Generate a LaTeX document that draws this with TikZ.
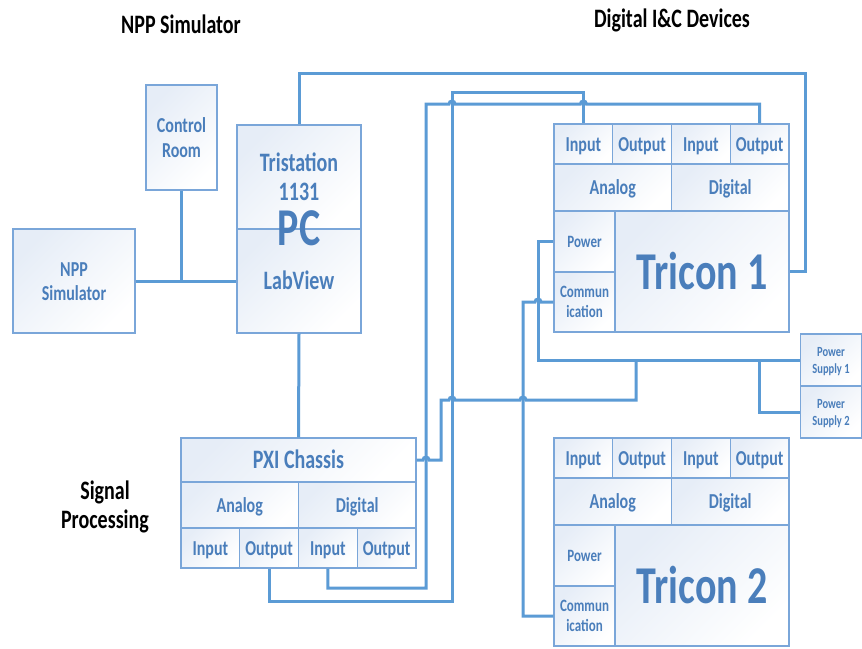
\documentclass[tikz,border=0pt]{standalone}
\usepackage{fontspec}
\setmainfont{Carlito}
\usepackage{graphicx}
\usetikzlibrary{calc}

\definecolor{wireblue}{HTML}{5B9BD5}
\definecolor{boxline}{HTML}{7AA6D9}
\definecolor{boxtext}{HTML}{4A7EBB}
\definecolor{boxtint}{HTML}{E6EDF7}

% text in the boxes is drawn a bit taller than wide
\newcommand{\tallt}[1]{\raisebox{-0.15em}[\height][\depth]{\scalebox{1}[1.33]{\begin{tabular}{@{}c@{}}#1\end{tabular}}}}

\begin{document}
\begin{tikzpicture}[x=1pt,y=-1pt,
    cell/.style={draw=boxline,line width=1.2pt,left color=boxtint,right color=white,
        shading angle=45,inner sep=0pt,text=boxtext},
    txtbig/.style={font=\fontsize{20}{22.5}\selectfont\bfseries},
    txtmid/.style={font=\fontsize{16}{18.5}\selectfont\bfseries},
    txtsmall/.style={font=\fontsize{13}{15}\selectfont\bfseries},
    txthuge/.style={font=\fontsize{40}{44}\selectfont\bfseries,text=boxtext},
    io/.style={cell,txtmid,minimum width=58.75,minimum height=40},
    grp/.style={cell,txtmid,minimum width=117.5,minimum height=47},
    title/.style={font=\fontsize{20}{22.5}\selectfont\bfseries,text=black},
    link/.style={draw=wireblue,line width=3pt}]

    \path[use as bounding box,fill=white] (0,0) rectangle (862,648);

    % Titles
    \node[title] (ttlnpp) at (181,25) {\tallt{NPP Simulator}};
    \node[title] (ttldig) at (672,19) {\tallt{Digital I\&C Devices}};
    \node[title] (ttlsig) at (105,505) {\tallt{Signal\\Processing}};

    % Simulator side
    \node[cell,txtmid,minimum width=122,minimum height=104] (npp) at (74,281) {\tallt{NPP\\Simulator}};
    \node[cell,txtmid,minimum width=71,minimum height=105] (ctrl) at (181.5,137.5) {\tallt{Control\\Room}};
    \node[cell,txtbig,minimum width=124,minimum height=104] (pctop) at (299,177) {\tallt{Tristation\\1131}};
    \node[cell,txtbig,minimum width=124,minimum height=104] (pcbot) at (299,281) {\tallt{LabView}};
    \node[txthuge] (pclbl) at (299,228) {\tallt{PC}};

    % PXI chassis
    \node[cell,txtbig,minimum width=235,minimum height=44] (pxi) at (298.5,460) {\tallt{PXI Chassis}};
    \node[grp,minimum height=46] (pxia) at (239.75,505) {\tallt{Analog}};
    \node[grp,minimum height=46] (pxid) at (357.25,505) {\tallt{Digital}};
    \node[io] (pxiai) at (210.4,548) {\tallt{Input}};
    \node[io] (pxiao) at (269.1,548) {\tallt{Output}};
    \node[io] (pxidi) at (327.9,548) {\tallt{Input}};
    \node[io] (pxido) at (386.6,548) {\tallt{Output}};

    % Tricon 1
    \node[io] (t1ai) at (583.4,144) {\tallt{Input}};
    \node[io] (t1ao) at (642.1,144) {\tallt{Output}};
    \node[io] (t1di) at (700.9,144) {\tallt{Input}};
    \node[io] (t1do) at (759.6,144) {\tallt{Output}};
    \node[grp] (t1a) at (612.75,187.5) {\tallt{Analog}};
    \node[grp] (t1d) at (730.25,187.5) {\tallt{Digital}};
    \node[cell,txtsmall,minimum width=61,minimum height=61] (t1pow) at (584.5,241.5) {\tallt{Power}};
    \node[cell,txtsmall,minimum width=61,minimum height=60] (t1com) at (584.5,302) {\tallt{Commun\\ication}};
    \node[cell,txthuge,minimum width=174,minimum height=121] (t1main) at (702,271.5) {\tallt{Tricon 1}};

    % Tricon 2
    \node[io] (t2ai) at (583.4,458) {\tallt{Input}};
    \node[io] (t2ao) at (642.1,458) {\tallt{Output}};
    \node[io] (t2di) at (700.9,458) {\tallt{Input}};
    \node[io] (t2do) at (759.6,458) {\tallt{Output}};
    \node[grp] (t2a) at (612.75,501.5) {\tallt{Analog}};
    \node[grp] (t2d) at (730.25,501.5) {\tallt{Digital}};
    \node[cell,txtsmall,minimum width=61,minimum height=61] (t2pow) at (584.5,555.5) {\tallt{Power}};
    \node[cell,txtsmall,minimum width=61,minimum height=60] (t2com) at (584.5,616) {\tallt{Commun\\ication}};
    \node[cell,txthuge,minimum width=174,minimum height=121] (t2main) at (702,585.5) {\tallt{Tricon 2}};

    % Power supplies
    \node[cell,font=\fontsize{10.5}{12.5}\selectfont\bfseries,minimum width=61,minimum height=52] (ps1) at (831,360) {\tallt{Power\\Supply 1}};
    \node[cell,font=\fontsize{10.5}{12.5}\selectfont\bfseries,minimum width=61,minimum height=52] (ps2) at (831,412) {\tallt{Power\\Supply 2}};

    % The lines
    \draw[link] (npp.east) -- (pcbot.west);
    \draw[link] (ctrl.south) -- (ctrl.south |- npp.east);
    \draw[link] (pcbot.south) -- (pxi.north);
    \draw[link] (pctop.north) |- (805,73) |- (t1main.east);
    \draw[link] (pxiao.south) |- (452,601) |- (583.4,92) -- (t1ai.north);
    \draw[link] (pxidi.south) |- (426,588) -- (426,104) -- (449,104)
        arc[start angle=180,end angle=360,radius=3] -- (580.4,104)
        arc[start angle=180,end angle=360,radius=3] -- (759.6,104) -- (t1do.north);
    \draw[link] (pxi.east) -- (423,460)
        arc[start angle=180,end angle=360,radius=3] -- (441,460) -- (441,400) -- (449,400)
        arc[start angle=180,end angle=360,radius=3] -- (520,400)
        arc[start angle=180,end angle=360,radius=3] -- (636,400) -- (636,360);
    \draw[link] (ps1.west) -| (538,241.5) -- (t1pow.west);
    \draw[link] (759.6,360) |- (ps2.west);
    \draw[link] (t1com.west) -- (541,302)
        arc[start angle=0,end angle=-180,radius=3] -- (523,302) |- (t2com.west);
\end{tikzpicture}
\end{document}
